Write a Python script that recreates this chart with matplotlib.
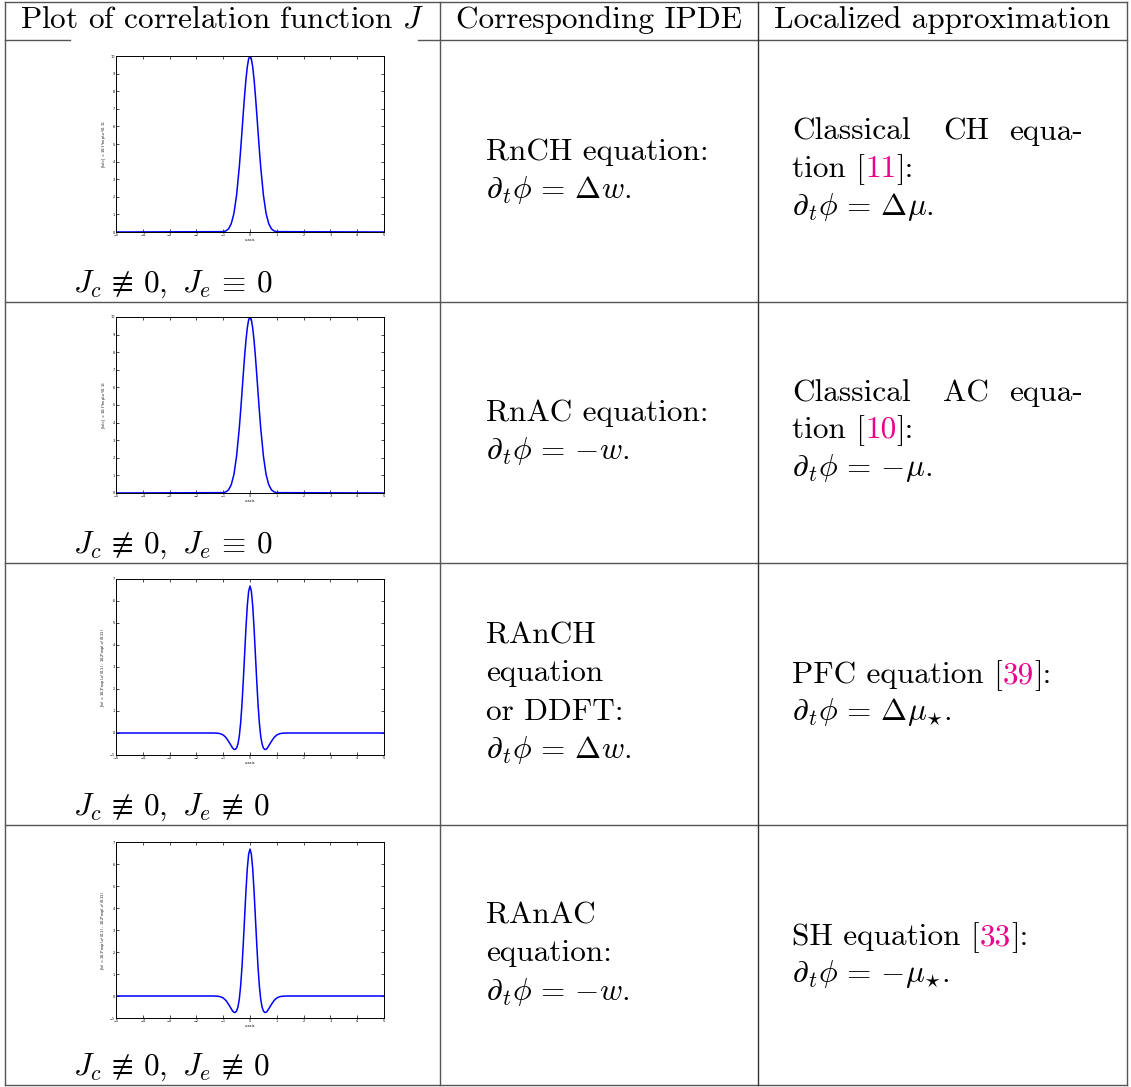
import numpy as np
import matplotlib
matplotlib.use('Agg')
import matplotlib.pyplot as plt

plt.rcParams['mathtext.fontset'] = 'cm'

W, H = 1131, 1087

# curves
x_vals = [-5, -1.0, -0.9, -0.8, -0.7, -0.6, -0.5, -0.45, -0.4, -0.35, -0.3, -0.25, -0.2, -0.15, -0.1, -0.05,
          0, 0.05, 0.1, 0.15, 0.2, 0.25, 0.3, 0.35, 0.4, 0.45, 0.5, 0.6, 0.7, 0.8, 0.9, 1.0, 5]
J_local = [0, 0.02, 0.06, 0.18, 0.47, 1.05, 2.1, 2.9, 3.68, 4.65, 5.7, 6.77, 7.79, 8.69, 9.39, 9.85,
           10, 9.85, 9.39, 8.69, 7.79, 6.77, 5.7, 4.65, 3.68, 2.9, 2.1, 1.05, 0.47, 0.18, 0.06, 0.02, 0]

x_vals2 = [-5, -1.4, -1.2, -1.1, -1.0, -0.9, -0.8, -0.7, -0.65, -0.6, -0.55, -0.5, -0.45, -0.4, -0.35, -0.3,
           -0.25, -0.2, -0.15, -0.1, -0.05, 0, 0.05, 0.1, 0.15, 0.2, 0.25, 0.3, 0.35, 0.4, 0.45, 0.5,
           0.55, 0.6, 0.65, 0.7, 0.8, 0.9, 1.0, 1.1, 1.2, 1.4, 5]
J_mexhat = [0, 0, -0.01, -0.035, -0.09, -0.2, -0.38, -0.58, -0.68, -0.74, -0.75, -0.68, -0.5, -0.15, 0.45, 1.3,
            2.4, 3.6, 4.8, 5.8, 6.45, 6.68, 6.45, 5.8, 4.8, 3.6, 2.4, 1.3, 0.45, -0.15, -0.5, -0.68,
            -0.75, -0.74, -0.68, -0.58, -0.38, -0.2, -0.09, -0.035, -0.01, 0, 0]

ylabels = ['J(x)=J = 10; f*exp(-x$^2$/0.1);',
           'J(x)=J = 10; f*exp(-x$^2$/0.1);',
           'J(x) = 10.1*exp(-x$^2$/0.1) - 10.2*exp(-x$^2$/0.11)',
           'J(x) = 10.1*exp(-x$^2$/0.1) - 10.2*exp(-x$^2$/0.11)']
cond_labels = [r'$J_c \,\nequiv\, 0,\ J_e \,\equiv\, 0$', r'$J_c \,\nequiv\, 0,\ J_e \,\equiv\, 0$',
               r'$J_c \,\nequiv\, 0,\ J_e \,\nequiv\, 0$', r'$J_c \,\nequiv\, 0,\ J_e \,\nequiv\, 0$']
headers = ['Plot of correlation function $J$', 'Corresponding IPDE', 'Localized approximation']
EQ = r'\,=\,'
ipde = [['RnCH equation:', r'$\partial_t\phi' + EQ + r'\Delta w.$'],
        ['RnAC equation:', r'$\partial_t\phi' + EQ + r'{-w}.$'],
        ['RAnCH', 'equation', 'or DDFT:', r'$\partial_t\phi' + EQ + r'\Delta w.$'],
        ['RAnAC', 'equation:', r'$\partial_t\phi' + EQ + r'{-w}.$']]
approx = [[['Classical', 'CH', 'equa-'], [('tion [', 'k'), ('11', 'm'), (']:', 'k')], r'$\partial_t\phi' + EQ + r'\Delta\mu.$'],
          [['Classical', 'AC', 'equa-'], [('tion [', 'k'), ('10', 'm'), (']:', 'k')], r'$\partial_t\phi' + EQ + r'{-\mu}.$'],
          [None, [('PFC equation [', 'k'), ('39', 'm'), (']:', 'k')], r'$\partial_t\phi' + EQ + r'\Delta\mu_{\!\star}\!.$'],
          [None, [('SH equation [', 'k'), ('33', 'm'), (']:', 'k')], r'$\partial_t\phi' + EQ + r'{-\mu_{\!\star}}\!.$']]

row_bots = [302, 563, 825, 1085]
col_x = [5, 440, 758, 1127]
cite_col = '#ec008c'
fs = 22.5

fig = plt.figure(figsize=(W / 100, H / 100), dpi=100)
cv = fig.add_axes([0, 0, 1, 1])
cv.set_xlim(0, W)
cv.set_ylim(H, 0)
cv.axis('off')

lc = '#555555'
lw = 1.0
cv.plot([col_x[0], col_x[-1]], [2, 2], color=lc, lw=lw)
cv.plot([col_x[0], 70], [40, 40], color=lc, lw=lw)
cv.plot([418, col_x[-1]], [40, 40], color=lc, lw=lw)
for yb in row_bots:
    cv.plot([col_x[0], col_x[-1]], [yb, yb], color=lc, lw=lw)
for xc in col_x:
    cv.plot([xc, xc], [2, 1085], color='#333333' if xc == 758 else lc, lw=lw)

tkw = dict(family='cmr10', fontsize=fs, va='baseline')
cv.text(222, 28, headers[0], ha='center', **tkw)
cv.text(599, 28, headers[1], ha='center', **tkw)
cv.text(942, 28, headers[2], ha='center', **tkw)

fig.canvas.draw()
rend = fig.canvas.get_renderer()


def pieces(x, y, parts):
    for s, c in parts:
        t = cv.text(x, y, s, color=cite_col if c == 'm' else 'black', ha='left', **tkw)
        bb = t.get_window_extent(renderer=rend)
        x += bb.width


ipde_base = [[160, 198], [421, 459], [643, 681, 720, 758], [923, 961, 1000]]
approx_base = [[140, 177, 215], [401, 438, 476], [None, 683, 720], [None, 945, 982]]
cond_base = [292, 553, 815, 1075]

for i in range(4):
    for s, yb in zip(ipde[i], ipde_base[i]):
        cv.text(486, yb, s, ha='left', **tkw)
    first, cite, eq = approx[i]
    b = approx_base[i]
    if first is not None:
        cv.text(792, b[0], first[0], ha='left', **tkw)
        cv.text(966, b[0], first[1], ha='center', **tkw)
        cv.text(1083, b[0], first[2], ha='right', **tkw)
    pieces(792, b[1], cite)
    cv.text(792, b[2], eq, ha='left', **tkw)
    cv.text(73, cond_base[i], cond_labels[i], ha='left', **tkw)

# small correlation plots
ax_tops = [56, 317, 579, 842]
ax_h = 176
for i in range(4):
    l, r, t = 116, 384, ax_tops[i]
    ax = fig.add_axes([l / W, 1 - (t + ax_h) / H, (r - l) / W, ax_h / H])
    if i < 2:
        ax.plot(x_vals, J_local, color='#0000ff', lw=1.1)
        ax.set_ylim(0, 10)
        ax.set_yticks(range(0, 11))
    else:
        ax.plot(x_vals2, J_mexhat, color='#0000ff', lw=1.1)
        ax.set_ylim(-1, 7)
        ax.set_yticks(range(-1, 8))
    ax.set_xlim(-5, 5)
    ax.set_xticks(range(-5, 6))
    ax.tick_params(direction='in', length=2, width=0.5, labelsize=2.5, pad=1,
                   top=True, right=True)
    for sp in ax.spines.values():
        sp.set_linewidth(0.7)
    ax.set_xlabel('x-axis', fontsize=2.5, labelpad=0.5)
    ax.set_ylabel(ylabels[i], fontsize=2.5, labelpad=1)

fig.savefig('out.png', dpi=100)
